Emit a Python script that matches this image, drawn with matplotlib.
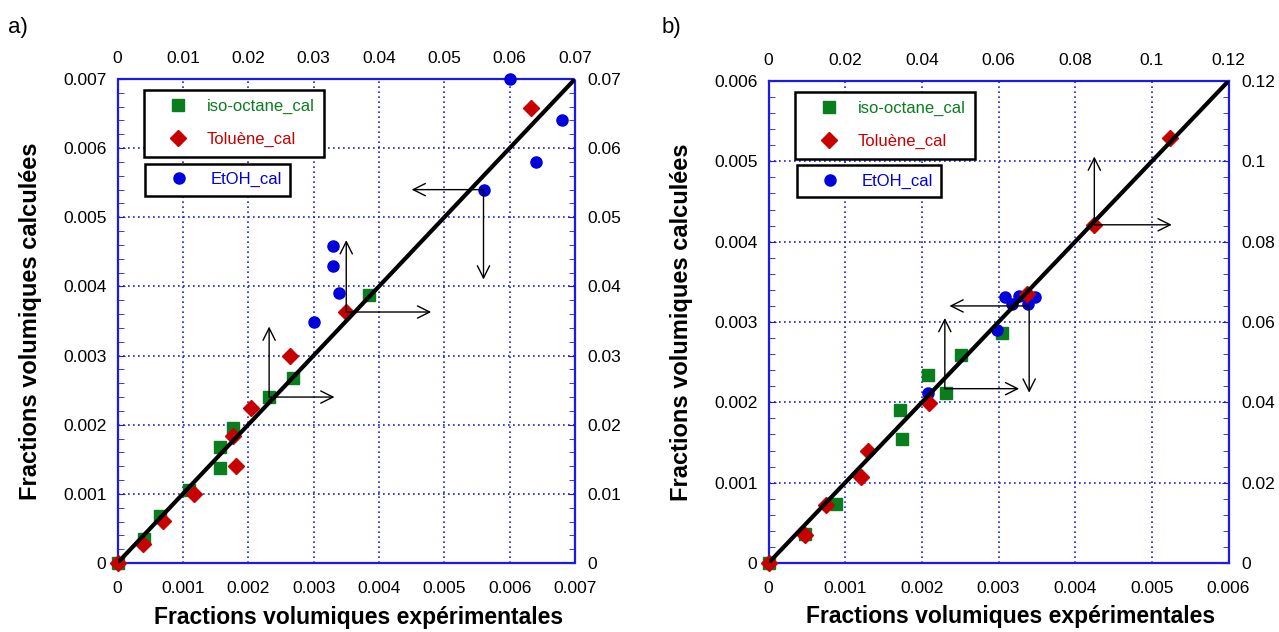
import numpy as np
import matplotlib.pyplot as plt
from matplotlib.ticker import MultipleLocator, FuncFormatter

plt.rcParams['font.family'] = ['Liberation Sans', 'DejaVu Sans']

# panel a) values
a_iso_x = [0, 0.0004, 0.00065, 0.00109, 0.00157, 0.00157, 0.00177, 0.00232, 0.00268, 0.00385]
a_iso_y = [0, 0.00034, 0.00068, 0.00105, 0.00168, 0.00137, 0.00195, 0.0024, 0.00267, 0.00387]
a_tol_x = [0, 0.00039, 0.0007, 0.00117, 0.00176, 0.00181, 0.00204, 0.00264, 0.0035, 0.00633]
a_tol_y = [0, 0.00027, 0.00061, 0.001, 0.00184, 0.00141, 0.00224, 0.003, 0.00363, 0.00658]
a_etoh_x = [0.003, 0.0033, 0.0033, 0.00339, 0.0056, 0.006, 0.0064, 0.0068]
a_etoh_y = [0.00349, 0.00459, 0.00429, 0.0039, 0.0054, 0.007, 0.0058, 0.0064]

# panel b) values
b_iso_x = [0, 0.00048, 0.00088, 0.00171, 0.00174, 0.00208, 0.00231, 0.00251, 0.00304]
b_iso_y = [0, 0.00036, 0.00074, 0.00191, 0.00154, 0.00234, 0.00212, 0.00259, 0.00286]
b_tol_x = [0, 0.00048, 0.00075, 0.0012, 0.0013, 0.00209, 0.00337, 0.00425, 0.00524]
b_tol_y = [0, 0.00035, 0.00072, 0.00107, 0.0014, 0.00199, 0.00335, 0.00421, 0.00529]
b_etoh_x = [0.00208, 0.00298, 0.00309, 0.00318, 0.00327, 0.00338, 0.00338, 0.00348]
b_etoh_y = [0.00211, 0.0029, 0.00331, 0.00322, 0.00332, 0.00331, 0.00322, 0.00331]

# arrows (start, end)
a_arrows = [((0.0056, 0.0054), (0.0045, 0.0054)), ((0.0056, 0.0054), (0.0056, 0.0041)),
            ((0.0035, 0.00363), (0.0035, 0.00467)), ((0.0035, 0.00363), (0.0048, 0.00363)),
            ((0.00232, 0.0024), (0.00232, 0.00342)), ((0.00232, 0.0024), (0.00332, 0.0024))]
b_arrows = [((0.00425, 0.00421), (0.00425, 0.00506)), ((0.00425, 0.00421), (0.00526, 0.00421)),
            ((0.0034, 0.0032), (0.00236, 0.0032)), ((0.0034, 0.0032), (0.0034, 0.00212)),
            ((0.0023, 0.00217), (0.0023, 0.00305)), ((0.0023, 0.00217), (0.00327, 0.00217))]

GREEN, RED, BLUE = '#0a7d1c', '#c80000', '#0000dd'
GRIDBLUE = '#1a1aee'

fmt = FuncFormatter(lambda v, p: '%g' % round(v, 6))


def panel(ax, lim, sec, iso, tol, etoh, arrows, major, sec_major):
    ax.plot(*iso, 's', color=GREEN, ms=8, label='iso-octane_cal', zorder=3, clip_on=False)
    ax.plot(*etoh, 'o', color=BLUE, ms=8, label='EtOH_cal', zorder=3, clip_on=False)
    ax.plot(*tol, 'D', color=RED, ms=8, label='Toluène_cal', zorder=4, clip_on=False)
    ax.plot([0, lim], [0, lim], color='k', lw=3, zorder=5)
    for (x0, y0), (x1, y1) in arrows:
        ax.annotate('', xy=(x1, y1), xytext=(x0, y0),
                    arrowprops=dict(arrowstyle='->', color='k', lw=1,
                                    mutation_scale=22, shrinkA=0, shrinkB=0),
                    zorder=6)

    ax.set_xlim(0, lim)
    ax.set_ylim(0, lim)
    ax.xaxis.set_major_locator(MultipleLocator(major))
    ax.yaxis.set_major_locator(MultipleLocator(major))
    ax.yaxis.set_minor_locator(MultipleLocator(major / 5))
    ax.xaxis.set_major_formatter(fmt)
    ax.yaxis.set_major_formatter(fmt)
    ax.grid(True, color=GRIDBLUE, ls=(0, (1, 2)), lw=1.2)
    for s in ax.spines.values():
        s.set_color(GRIDBLUE)
        s.set_linestyle((0, (1, 1)))
        s.set_linewidth(1.6)
    ax.tick_params(axis='both', which='both', direction='in', colors=GRIDBLUE,
                   labelcolor='black', labelsize=12.5)
    ax.tick_params(axis='x', which='major', length=0, pad=13)
    ax.tick_params(axis='y', which='major', length=5, pad=8)
    ax.tick_params(axis='y', which='minor', length=4)

    top = ax.secondary_xaxis('top', functions=(lambda v: v * sec, lambda v: v / sec))
    right = ax.secondary_yaxis('right', functions=(lambda v: v * sec, lambda v: v / sec))
    top.xaxis.set_major_locator(MultipleLocator(sec_major))
    right.yaxis.set_major_locator(MultipleLocator(sec_major))
    right.yaxis.set_minor_locator(MultipleLocator(sec_major / 5))
    top.xaxis.set_major_formatter(fmt)
    right.yaxis.set_major_formatter(fmt)
    top.spines['top'].set_visible(False)
    right.spines['right'].set_visible(False)
    top.tick_params(axis='x', length=0, pad=9, labelsize=12.5)
    right.tick_params(axis='y', which='both', direction='in', colors=GRIDBLUE,
                      labelcolor='black', labelsize=12.5, pad=9)
    right.tick_params(axis='y', which='major', length=5)
    right.tick_params(axis='y', which='minor', length=4)

    ax.set_xlabel('Fractions volumiques expérimentales', fontsize=16.5, fontweight='bold')
    ax.set_ylabel('Fractions volumiques calculées', fontsize=17, fontweight='bold')
    ax.xaxis.set_label_coords(0.526, -0.088)
    ax.yaxis.set_label_coords(-0.165, 0.5)

    h = ax.get_lines()
    leg1 = ax.legend(handles=[h[0], h[2]], loc='upper left', bbox_to_anchor=(0.057, 0.978),
                     fancybox=False, edgecolor='black', framealpha=1, fontsize=12,
                     handlelength=3, handletextpad=0.25, labelspacing=1.1,
                     borderpad=0.55, borderaxespad=0, labelcolor='linecolor', numpoints=1)
    leg1.get_frame().set_linewidth(1.8)
    ax.add_artist(leg1)
    leg2 = ax.legend(handles=[h[1]], loc='upper left', bbox_to_anchor=(0.061, 0.825),
                     fancybox=False, edgecolor='black', framealpha=1, fontsize=12,
                     handlelength=3, handletextpad=0.4, borderpad=0.5,
                     borderaxespad=0, labelcolor='linecolor', numpoints=1)
    leg2.get_frame().set_linewidth(1.8)


def main() -> None:
    fig = plt.figure(figsize=(12.79, 6.32), dpi=100)
    ax_a = fig.add_axes([117.5 / 1279, 69 / 632, 457.5 / 1279, 484 / 632])
    ax_b = fig.add_axes([768.5 / 1279, 69 / 632, 460 / 1279, 482 / 632])

    panel(ax_a, 0.007, 10, (a_iso_x, a_iso_y), (a_tol_x, a_tol_y), (a_etoh_x, a_etoh_y),
          a_arrows, 0.001, 0.01)
    panel(ax_b, 0.006, 20, (b_iso_x, b_iso_y), (b_tol_x, b_tol_y), (b_etoh_x, b_etoh_y),
          b_arrows, 0.001, 0.02)

    fig.text(8 / 1279, 1 - 27 / 632, 'a)', fontsize=16, va='center')
    fig.text(662 / 1279, 1 - 27 / 632, 'b)', fontsize=16, va='center')

    fig.savefig('out.png', dpi=100)


if __name__ == "__main__":
    main()
